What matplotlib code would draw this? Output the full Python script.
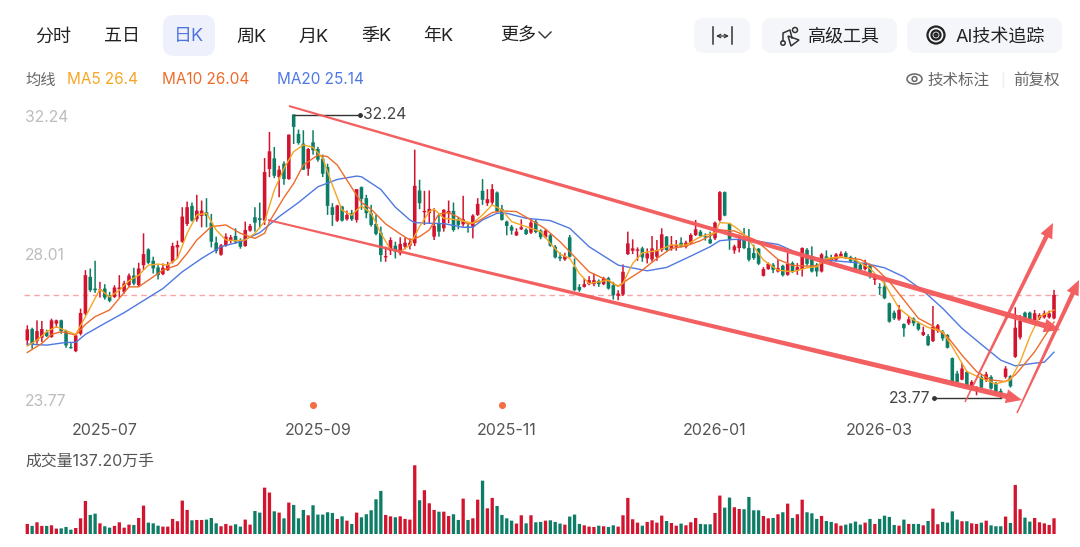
import matplotlib
matplotlib.use('Agg')
import matplotlib.pyplot as plt
from matplotlib.patches import Polygon, FancyBboxPatch, Circle, Ellipse
import numpy as np

plt.rcParams['font.family'] = ['Inter', 'Noto Sans CJK SC', 'DejaVu Sans']

# daily candles
opens = [25.49,25.83,25.47,25.57,25.74,25.59,25.99,26.09,25.77,25.29,25.17,25.69,26.29,27.39,27.04,26.99,27.04,26.84,26.79,27.02,
         26.94,27.14,27.43,27.14,27.74,28.21,27.87,27.67,27.47,27.59,27.84,28.27,28.44,28.97,29.51,29.11,29.21,29.32,29.01,28.41,
         28.05,28.34,28.47,28.61,28.49,28.31,28.77,29.17,29.14,29.07,30.61,30.93,30.37,30.77,30.31,32.24,31.66,31.37,30.62,31.41,
         31.21,30.92,30.67,29.47,29.07,29.49,29.11,29.29,29.09,30.07,29.74,29.29,28.97,28.71,27.97,28.17,28.32,28.09,28.29,28.32,
         28.39,29.97,29.32,29.29,28.59,28.99,28.84,29.29,29.36,29.09,28.96,28.89,28.89,29.24,29.96,29.59,29.61,29.91,29.42,29.04,
         28.89,28.63,28.81,28.80,28.71,29.04,28.77,28.57,28.63,28.29,27.99,27.91,28.57,27.69,27.09,27.09,27.17,27.17,27.27,27.17,
         27.35,27.14,26.82,26.86,28.07,28.17,28.17,28.24,27.94,27.91,27.99,28.19,28.59,28.22,28.29,28.41,28.29,28.39,28.64,28.74,
         28.59,28.51,28.54,29.08,29.92,28.98,28.18,28.25,28.50,28.25,28.10,28.23,27.42,27.62,27.75,27.55,27.72,27.45,27.80,27.58,
         27.62,28.20,27.98,27.75,27.55,28.00,27.95,27.90,28.00,28.10,27.98,27.90,27.75,27.62,27.73,27.30,27.08,27.10,26.60,26.32,
         26.12,25.98,26.00,26.14,26.00,25.65,25.62,25.47,25.78,25.75,25.65,24.96,24.50,24.32,24.55,24.10,24.00,24.40,24.32,24.40,
         24.20,23.98,24.40,24.42,25.00,25.58,26.32,26.32,26.10,26.15,26.18,26.18,26.15]
closes = [25.82,25.37,25.77,25.83,25.62,26.09,26.09,25.77,25.34,25.26,25.64,26.31,27.44,26.99,26.99,27.02,26.77,26.67,27.07,27.07,
          27.19,27.43,27.19,27.64,28.07,27.81,27.64,27.44,27.66,27.76,28.31,28.34,29.19,29.47,29.07,29.37,29.37,29.21,28.44,28.16,
          28.33,28.59,28.57,28.44,28.29,28.79,28.91,29.01,29.09,30.52,31.14,30.41,30.59,30.31,31.64,31.87,31.39,30.59,31.21,31.17,
          30.89,30.47,29.51,29.24,29.52,29.07,29.24,29.11,30.01,29.72,29.29,28.94,28.67,28.04,28.01,28.49,28.14,28.37,28.41,28.41,
          30.11,29.59,29.36,29.42,28.91,28.74,29.39,29.36,28.79,28.94,29.11,28.86,29.22,29.57,29.69,29.71,30.01,29.34,29.09,28.91,
          28.77,28.74,28.87,28.67,29.01,28.73,28.57,28.77,28.32,27.97,27.94,28.01,27.99,26.99,26.99,27.17,27.29,27.29,27.17,27.35,
          27.04,26.84,26.89,27.54,28.39,28.24,28.21,27.97,28.09,28.24,28.19,28.66,28.19,28.35,28.34,28.29,28.41,28.64,28.81,28.61,
          28.57,28.39,29.01,29.92,29.22,28.50,28.30,28.52,28.25,27.90,27.95,27.78,27.62,27.78,27.60,27.65,27.44,27.78,27.55,27.68,
          28.25,27.78,27.55,27.55,28.06,27.90,27.88,28.06,28.08,27.98,27.85,27.62,27.60,27.78,27.50,27.35,27.05,26.75,26.05,26.15,
          26.40,25.85,26.12,26.00,25.82,25.74,25.35,25.90,25.94,25.55,25.27,24.24,24.25,24.65,24.12,24.25,24.08,24.08,24.48,24.05,
          23.95,23.92,24.65,24.12,25.87,26.08,26.10,26.10,26.30,26.25,26.30,26.30,26.85]
highs = [25.94,25.87,26.09,26.07,25.81,26.14,26.11,26.11,25.81,25.41,25.69,26.44,27.59,27.64,27.87,27.24,27.17,26.94,27.14,27.44,
         27.27,27.49,27.66,27.81,28.69,28.24,27.99,27.74,27.79,27.84,28.41,28.47,29.47,29.64,29.61,29.84,29.67,29.74,29.27,28.59,
         28.37,28.69,28.64,28.84,28.54,29.04,28.97,29.47,29.61,30.94,31.72,31.27,30.71,30.84,31.64,32.24,31.79,31.77,31.24,31.77,
         31.27,31.04,30.77,29.59,29.54,29.51,29.37,29.39,30.01,30.09,29.84,29.54,29.24,28.89,28.29,28.57,28.44,28.57,28.57,28.54,
         31.19,30.29,29.96,29.97,29.44,29.29,29.41,29.67,29.61,29.17,29.81,28.99,29.26,29.74,30.31,30.01,30.16,29.94,29.54,29.07,
         28.94,28.84,29.11,28.84,29.11,29.09,28.81,28.81,28.67,28.34,28.12,28.11,28.64,27.94,27.17,27.34,27.41,27.49,27.31,27.39,
         27.39,27.24,26.99,27.76,28.74,28.51,28.27,28.29,28.24,28.61,28.49,28.84,28.61,28.61,28.49,28.57,28.47,28.69,29.09,28.79,
         28.69,28.74,29.04,29.95,29.94,29.00,28.35,28.65,28.85,28.82,28.35,28.25,27.68,27.82,27.80,27.92,27.75,28.10,27.85,27.80,
         28.27,28.25,28.30,27.80,28.10,28.18,28.05,28.10,28.15,28.15,28.02,27.98,27.80,27.90,27.78,27.45,27.20,27.25,26.62,26.38,
         26.55,26.00,26.22,26.18,26.05,25.90,25.68,26.52,25.98,25.80,25.68,24.98,24.58,24.82,24.58,24.30,24.12,24.45,24.55,24.45,
         24.25,24.05,24.72,24.45,26.48,26.25,26.35,26.35,26.40,26.30,26.38,26.38,27.00]
lows = [25.34,25.24,25.39,25.44,25.59,25.57,25.87,25.69,25.27,25.24,25.14,25.64,26.24,26.94,26.91,26.77,26.71,26.63,26.76,26.77,
        26.89,27.09,27.14,27.09,27.59,27.77,27.49,27.31,27.44,27.57,27.79,27.94,28.41,28.91,29.04,29.04,28.87,28.87,28.27,28.09,
        28.02,28.29,28.39,28.37,28.23,28.29,28.74,28.74,28.84,28.94,30.37,30.34,29.77,30.14,30.29,31.36,31.34,30.59,30.41,31.04,
        30.83,30.37,29.24,28.91,29.03,29.04,29.07,29.06,29.01,29.39,29.14,28.89,28.63,27.84,27.84,28.04,27.94,28.03,28.21,28.21,
        28.31,29.41,28.94,28.99,28.49,28.59,28.74,28.99,28.74,28.81,28.89,28.71,28.54,29.21,29.54,29.51,29.54,29.31,29.07,28.63,
        28.65,28.61,28.79,28.64,28.67,28.69,28.51,28.54,28.29,27.94,27.86,27.87,27.97,26.97,26.94,27.07,27.14,27.11,27.09,27.14,
        27.01,26.71,26.69,26.82,28.04,28.07,27.87,27.84,27.79,27.84,27.87,28.14,28.17,28.17,28.17,28.27,28.24,28.37,28.61,28.57,
        28.47,28.37,28.49,29.04,29.20,28.20,28.08,28.12,28.22,27.85,27.90,27.74,27.40,27.60,27.50,27.52,27.40,27.42,27.50,27.45,
        27.40,27.72,27.52,27.40,27.52,27.85,27.75,27.85,27.97,27.92,27.80,27.60,27.58,27.58,27.34,27.15,26.85,26.72,26.02,26.10,
        26.08,25.60,25.95,25.92,25.78,25.62,25.32,25.44,25.72,25.48,25.25,24.18,24.20,24.30,24.08,24.05,23.85,24.05,24.25,24.02,
        23.92,23.77,24.35,24.08,24.97,25.52,26.06,26.05,26.08,26.10,26.14,26.14,26.12]

# volume in 万手 (last bar is the 137.20 of the label)
volumes = [89,72,103,72,72,77,49,51,63,40,54,137,286,166,177,94,69,57,72,103,57,83,80,140,246,100,94,74,66,66,132,112,289,209,120,
           123,123,126,140,94,69,89,74,86,66,126,83,200,186,400,358,197,186,137,272,252,137,209,163,249,169,169,189,183,132,154,117,89,186,
           146,172,206,300,372,166,154,146,154,132,126,592,292,378,266,209,194,194,157,172,123,306,123,137,297,460,223,312,243,166,137,117,
           92,163,94,163,103,106,117,120,106,92,83,152,169,89,77,66,63,74,69,63,77,66,163,312,129,100,74,106,120,100,160,114,97,74,92,77,
           103,140,89,86,86,183,
           332,229,315,232,217,215,320,206,206,157,137,140,172,189,263,140,172,297,189,180,132,157,114,106,94,74,83,94,109,83,100,132,89,
           132,160,149,80,74,126,89,89,89,77,114,220,86,106,100,197,126,112,112,94,89,100,117,77,69,69,152,97,423,215,143,109,140,103,94,80,137.2]

# moving average lines, read at these candle positions
ma5_idx = [0,2,4,6,8,10,12,14,15,17,19,21,23,25,27,29,31,33,35,37,39,41,43,45,47,49,51,53,55,57,59,61,63,65,67,68,
           69,71,73,75,77,79,81,83,84,86,89,92,94,96,98,100,103,106,108,110,112,114,116,118,120,122,123,125,127,130,133,136,139,142,
           143,145,147,149,152,155,158,161,163,165,168,171,174,177,180,183,186,189,191,194,197,200,203,205,207,209,212]
ma5_val = [25.32,25.50,25.75,25.90,25.78,25.67,26.20,26.75,27.02,26.79,26.99,27.27,27.44,27.74,27.77,27.74,27.94,28.69,29.24,29.29,28.79,28.49,28.47,28.49,28.69,29.04,29.98,30.63,31.13,31.33,31.26,30.93,30.13,29.38,29.23,29.38,
           29.51,29.29,28.69,28.21,28.14,28.34,28.89,29.34,29.41,29.14,29.09,28.99,29.24,29.54,29.39,29.04,28.89,28.74,28.39,28.07,27.94,27.49,27.19,27.24,27.29,27.10,27.20,27.79,28.11,28.17,28.34,28.34,28.59,28.71,
           29.01,28.99,28.79,28.49,27.89,27.59,27.54,27.66,27.69,27.94,27.99,27.89,27.64,27.19,26.45,26.10,25.88,25.75,25.30,24.56,24.36,24.19,24.31,24.85,25.60,26.20,26.40]

ma10_idx = [0,3,5,7,10,12,14,17,19,21,23,25,28,31,33,35,38,41,44,47,49,50,53,55,57,60,62,64,66,68,
            69,71,74,77,79,81,83,85,87,89,91,93,96,98,101,104,107,110,113,116,119,122,124,127,130,133,136,139,142,
            143,146,150,152,155,158,161,163,165,168,172,175,178,181,184,187,190,193,196,199,202,204,206,208,210,212]
ma10_val = [25.13,25.40,25.67,25.75,25.65,25.97,26.20,26.40,26.75,27.09,27.09,27.29,27.59,27.74,28.09,28.49,28.89,28.94,28.69,28.54,28.69,29.04,29.76,30.18,30.73,31.03,30.98,30.73,30.28,29.83,
            29.61,29.41,28.97,28.67,28.49,28.59,28.79,29.27,29.31,29.17,28.96,29.04,29.31,29.36,29.34,29.09,28.82,28.44,27.99,27.54,27.34,27.11,27.31,27.59,27.94,28.24,28.31,28.47,28.69,
            28.79,28.76,28.51,28.29,27.91,27.73,27.71,27.72,27.89,27.97,27.91,27.67,27.25,26.70,26.15,25.92,25.60,25.05,24.56,24.31,24.26,24.46,24.80,25.15,25.60,26.04]

ma20_idx = [0,4,8,10,12,16,20,24,28,32,36,40,44,48,52,56,60,64,68,
            69,73,76,79,80,83,86,90,92,94,97,99,103,108,112,116,122,128,132,137,141,143,
            146,150,155,160,165,169,173,177,181,185,189,193,197,201,204,208,210,212]
ma20_val = [25.38,25.35,25.43,25.43,25.67,26.00,26.32,26.68,27.04,27.54,27.94,28.29,28.44,28.71,29.19,29.61,30.08,30.30,30.40,
            30.38,30.00,29.47,29.09,29.01,28.99,28.98,28.87,28.87,29.09,29.29,29.29,29.14,29.07,28.84,28.29,27.74,27.57,27.67,28.01,28.29,28.47,
            28.51,28.47,28.36,28.04,27.89,27.84,27.79,27.66,27.39,26.97,26.45,25.85,25.37,24.90,24.73,24.81,24.84,25.14]

date_idx = [16, 60, 99, 142, 176]
date_labels = ['2025-07', '2025-09', '2025-11', '2026-01', '2026-03']
event_idx = [59, 98]
high_idx, high_price = 55, 32.24
low_idx, low_price = 201, 23.77

UP = '#d2142e'
DOWN = '#0d7d66'
MA5_C = '#f5a623'
MA10_C = '#ee6c2a'
MA20_C = '#4f78e2'
MARK = '#f3595a'


def px_axes(fig, left, top, right, bottom):
    W, H = 1080.0, 547.0
    return fig.add_axes([left / W, 1 - bottom / H, (right - left) / W, (bottom - top) / H])


def i2px_xlim(left, right):
    # candle i sits at 27.3 + 4.843 * i pixels
    return (left - 27.3) / 4.843, (right - 27.3) / 4.843


def price_at(y):
    return 32.24 - (y - 114.5) / 33.47


def tapered_arrow(ax, x0, y0, x1, y1, w0, w1, head_w, head_len):
    d = np.array([x1 - x0, y1 - y0], dtype=float)
    d /= np.hypot(*d)
    n = np.array([-d[1], d[0]])
    a = np.array([x0, y0], dtype=float)
    b = np.array([x1, y1], dtype=float)
    neck = b - d * head_len
    pts = [a + n * w0 / 2, neck + n * w1 / 2, neck + n * head_w / 2, b,
           neck - n * head_w / 2, neck - n * w1 / 2, a - n * w0 / 2]
    ax.add_patch(Polygon(pts, closed=True, fc=MARK, ec='none', alpha=0.96, zorder=5))


def button(ax, x0, y0, x1, y1, color, r=10):
    ax.add_patch(FancyBboxPatch((x0 + r, y0 + r), x1 - x0 - 2 * r, y1 - y0 - 2 * r,
                                boxstyle='round,pad=%d,rounding_size=%d' % (r, r),
                                fc=color, ec='none', zorder=1))


fig = plt.figure(figsize=(10.8, 5.47), dpi=100, facecolor='white')

# price panel
ax = px_axes(fig, 20, 100, 1070, 420)
ax.set_xlim(*i2px_xlim(20, 1070))
ax.set_ylim(price_at(420), price_at(100))
idx = np.arange(len(opens))
o, c, h, l = map(np.array, (opens, closes, highs, lows))
colors = [UP if cl >= op else DOWN for op, cl in zip(opens, closes)]
wicks = ax.vlines(idx, l, h, colors=colors, lw=1.1, zorder=2)
wicks.set_snap(False)
bodies = ax.bar(idx, np.maximum(np.abs(c - o), 0.03), bottom=np.minimum(o, c), width=0.74, color=colors, zorder=3)
for p in bodies:
    p.set_snap(False)
ax.plot(ma20_idx, ma20_val, color=MA20_C, lw=1.0, zorder=4)
ax.plot(ma10_idx, ma10_val, color=MA10_C, lw=1.0, zorder=4)
ax.plot(ma5_idx, ma5_val, color=MA5_C, lw=1.0, zorder=4)
ax.axhline(closes[-1], xmin=0.004, xmax=0.989, color='#f8a5a5', lw=1.0, dashes=(4, 3), zorder=1)
ax.scatter(event_idx, [price_at(405)] * len(event_idx), s=26, color='#f26f45', linewidths=0, zorder=4)

# high / low leaders
ax.plot([high_idx, high_idx + 13.6], [high_price, high_price], color='#333333', lw=1.0, zorder=4)
ax.plot([high_idx + 13.6], [high_price], 'o', ms=2.5, color='#333333', zorder=4)
ax.text(high_idx + 14.4, high_price - 0.01, '%.2f' % high_price, fontsize=11.3, color='#444444', va='center', ha='left')
ax.plot([low_idx, low_idx - 13.8], [low_price, low_price], color='#333333', lw=1.0, zorder=4)
ax.plot([low_idx - 13.8], [low_price], 'o', ms=2.5, color='#333333', zorder=4)
ax.text(low_idx - 14.5, low_price - 0.03, '%.2f' % low_price, fontsize=11.3, color='#444444', va='center', ha='right')

ax.set_xticks(date_idx)
ax.set_xticklabels(date_labels, fontsize=11.5, color='#555555')
ax.tick_params(axis='x', length=0, pad=2.2)
ax.set_yticks([])
for s in ax.spines.values():
    s.set_visible(False)
ax.patch.set_alpha(0)

# volume panel
vax = px_axes(fig, 20, 460, 1070, 534.3)
vax.set_xlim(*i2px_xlim(20, 1070))
vax.set_ylim(0, 74.3 * volumes[-1] / 16.0)
vbars = vax.bar(idx, volumes, width=0.68, color=colors)
for p in vbars:
    p.set_snap(False)
vax.axis('off')

# toolbar, labels and hand drawn marks, in pixel coordinates
top = fig.add_axes([0, 0, 1, 1], zorder=10)
top.set_xlim(0, 1080)
top.set_ylim(547, 0)
top.axis('off')
top.patch.set_alpha(0)

button(top, 163, 15, 215, 56, '#eef1fc', r=11)
tabs = ['分时', '五日', '日K', '周K', '月K', '季K', '年K']
tab_x = [53, 122, 189, 251, 314, 376, 438]
for name, x in zip(tabs, tab_x):
    top.text(x, 37, name, fontsize=13, ha='center', va='center', color='#4f74e0' if name == '日K' else '#222222', zorder=3)
top.text(518, 36.5, '更多', fontsize=13, ha='center', va='center', color='#222222')
top.plot([539, 545, 551], [32, 38, 32], color='#333333', lw=1.0)

for x0, x1 in [(694, 750), (762, 897), (907, 1062)]:
    button(top, x0, 18, x1, 53, '#f4f6fa', r=10)
top.plot([713, 713], [27, 44], color='#333333', lw=1.1)
top.plot([732, 732], [27, 44], color='#333333', lw=1.1)
top.annotate('', xy=(716, 36), xytext=(729, 36), arrowprops=dict(arrowstyle='<->', lw=0.9, color='#333333', shrinkA=0, shrinkB=0, mutation_scale=6))
top.plot([783, 783, 790, 792], [41, 33, 30, 38], color='#333333', lw=1.1)
top.add_patch(Circle((795, 30), 2.5, fc='none', ec='#333333', lw=1.1))
top.add_patch(Polygon([(788, 36), (799, 40), (791, 46)], closed=True, fc='none', ec='#333333', lw=1.1))
top.add_patch(Circle((783, 43), 2.2, fc='none', ec='#333333', lw=1.1))
top.text(844, 37, '高级工具', fontsize=13, ha='center', va='center', color='#222222')
for r, lw in [(8.5, 1.6), (4.5, 1.6), (1.5, 1.5)]:
    top.add_patch(Circle((936, 35), r, fc='none', ec='#222222', lw=lw))
top.text(1000, 37, 'AI技术追踪', fontsize=13, ha='center', va='center', color='#222222')

top.text(25, 80, '均线', fontsize=11, ha='left', va='center', color='#666666')
top.text(67, 80, 'MA5 26.4', fontsize=11, ha='left', va='center', color=MA5_C)
top.text(162, 80, 'MA10 26.04', fontsize=11, ha='left', va='center', color=MA10_C)
top.text(277, 80, 'MA20 25.14', fontsize=11, ha='left', va='center', color=MA20_C)
top.add_patch(Ellipse((914.5, 79), 15, 10, fc='none', ec='#666666', lw=1.1))
top.add_patch(Circle((914.5, 79), 2.4, fc='none', ec='#666666', lw=1.1))
top.text(927, 80, '技术标注', fontsize=11.2, ha='left', va='center', color='#666666')
top.plot([1003, 1003], [72, 87], color='#eeeeee', lw=1.0)
top.text(1013, 80, '前复权', fontsize=11.2, ha='left', va='center', color='#666666')

top.text(25, 117.5, '32.24', fontsize=11.3, ha='left', va='center', color='#bdbdbd')
top.text(25, 256, '28.01', fontsize=11.3, ha='left', va='center', color='#bdbdbd')
top.text(25, 402, '23.77', fontsize=11.3, ha='left', va='center', color='#bdbdbd')
top.text(25, 461, '成交量137.20万手', fontsize=11.4, ha='left', va='center', color='#555555')

tapered_arrow(top, 289, 106, 1060, 330, 2, 5.5, 14, 16)
tapered_arrow(top, 268, 220, 1022, 400, 2, 5.5, 14, 16)
tapered_arrow(top, 965, 402, 1053, 223, 1.5, 4.5, 13, 15)
tapered_arrow(top, 1017, 413, 1079, 280, 1.5, 4.5, 13, 15)

fig.savefig('out.png', dpi=100)
